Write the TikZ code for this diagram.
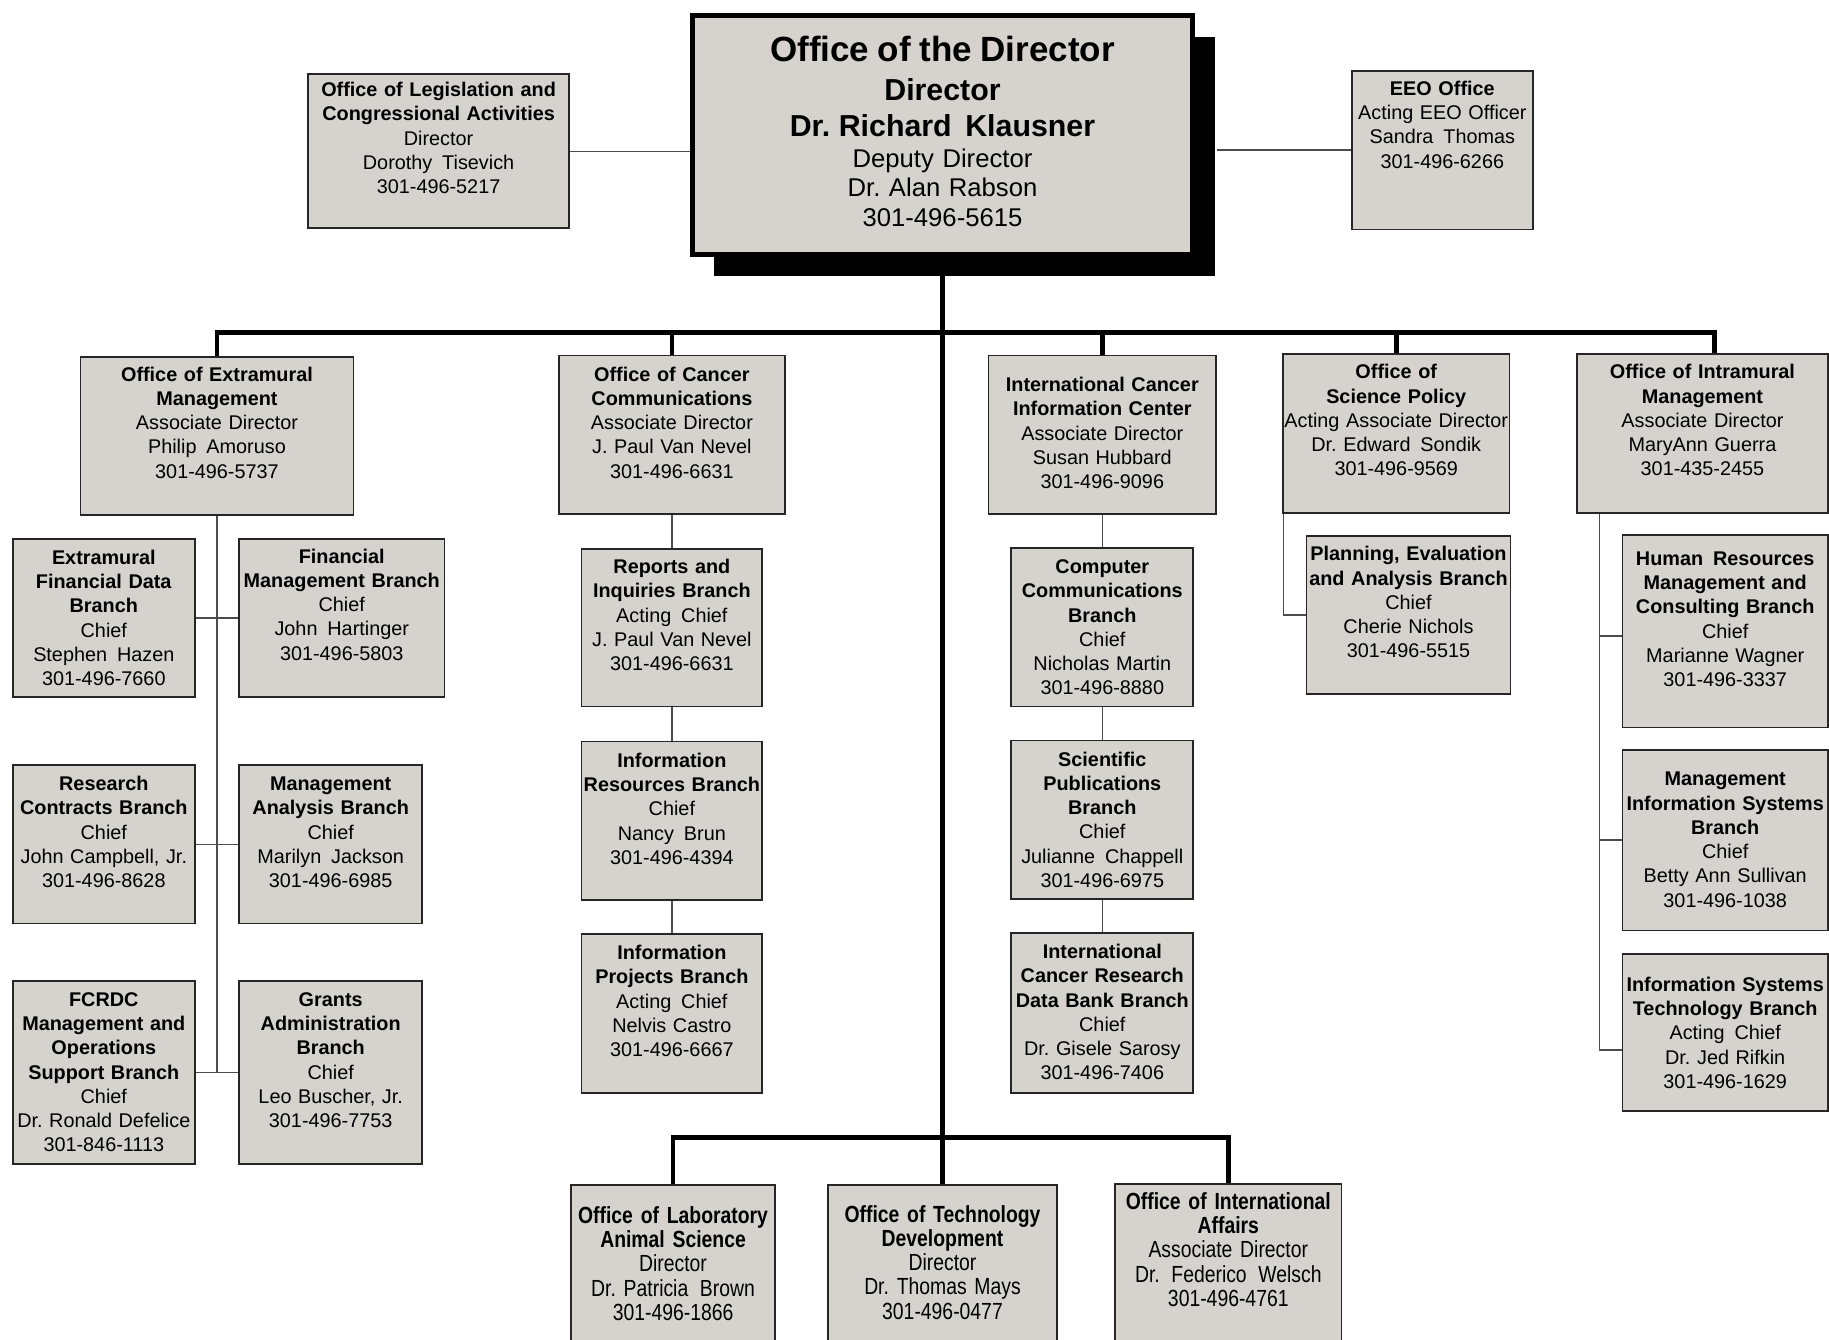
\documentclass[tikz,border=0pt]{standalone}
\usepackage{fontspec}
\setmainfont{Liberation Sans}
\newfontfamily\narrowsans[FakeStretch=0.83]{Liberation Sans}
\usetikzlibrary{shadows}
\definecolor{boxgray}{RGB}{214,210,206}
\frenchspacing

\tikzset{
  orgbox/.style={draw=black!85, line width=0.75pt, fill=boxgray, inner sep=0pt,
    anchor=north, align=center, font=\fontsize{8.5}{10.4}\selectfont},
  lowbox/.style={orgbox, font=\narrowsans\fontsize{10}{10.4}\selectfont},
  link/.style={draw=black!70, line width=0.6pt},
  trunk/.style={draw=black, line width=2pt},
}

\begin{document}
\begin{tikzpicture}[x=0.5pt, y=-0.5pt]
    \useasboundingbox (0,0) rectangle (1568,1148);
    \clip (0,0) rectangle (1568,1148);
    \fill[white] (0,0) rectangle (1568,1148);

    % director and staff offices
    \node[orgbox, draw=black, line width=2pt, text width=214.5pt, text height=20pt, text depth=82.5pt,
        drop shadow={shadow xshift=9.5pt, shadow yshift=-9.5pt, fill=black, opacity=1},
        font=\fontsize{11}{13}\selectfont] (dir) at (808,11)
        {\fontsize{15}{18}\selectfont\bfseries Office of the Director\\
         \fontsize{13}{16.4}\selectfont Director\\
         \fontsize{13}{15.5}\selectfont Dr. Richard~\,Klausner\\
         \fontsize{11}{13.3}\selectfont\mdseries Deputy Director\\
         \fontsize{11}{12.5}\selectfont Dr. Alan Rabson\\
         \fontsize{11}{13}\selectfont 301-496-5615};
    \node[orgbox, text width=112pt, text height=9.5pt, text depth=56.5pt] (olc) at (376,63)
        {\textbf{Office of Legislation and}\\ \textbf{Congressional Activities}\\ Director\\ Dorothy~\,Tisevich\\ 301-496-5217};
    \node[orgbox, text width=77.5pt, text height=10.5pt, text depth=57.5pt] (eeo) at (1236.5,60)
        {\textbf{EEO Office}\\ Acting EEO Officer\\ Sandra~\,Thomas\\ 301-496-6266};

    % associate director offices
    \node[orgbox, text width=117pt, text height=10.5pt, text depth=57.5pt] (oem) at (186,305)
        {\textbf{Office of Extramural}\\ \textbf{Management}\\ Associate Director\\ Philip~\,Amoruso\\ 301-496-5737};
    \node[orgbox, text width=97pt, text height=11pt, text depth=57pt] (occ) at (576,304)
        {\textbf{Office of Cancer}\\ \textbf{Communications}\\ Associate Director\\ J. Paul Van Nevel\\ 301-496-6631};
    \node[orgbox, text width=97.5pt, text height=15.5pt, text depth=52.5pt] (icic) at (945,304)
        {\textbf{International Cancer}\\ \textbf{Information Center}\\ Associate Director\\ Susan Hubbard\\ 301-496-9096};
    \node[orgbox, text width=97pt, text height=10.5pt, text depth=57.5pt] (osp) at (1197,303)
        {\textbf{Office of}\\ \textbf{Science Policy}\\ Acting Associate Director\\ Dr. Edward~\,Sondik\\ 301-496-9569};
    \node[orgbox, text width=107.5pt, text height=10.5pt, text depth=57.5pt] (oim) at (1459.5,303)
        {\textbf{Office of Intramural}\\ \textbf{Management}\\ Associate Director\\ MaryAnn Guerra\\ 301-435-2455};

    % extramural branches
    \node[orgbox, text width=78pt, text height=11pt, text depth=57pt] (efdb) at (89,461)
        {\textbf{Extramural}\\ \textbf{Financial Data}\\ \textbf{Branch}\\ Chief\\ Stephen~\,Hazen\\ 301-496-7660};
    \node[orgbox, text width=88pt, text height=10.5pt, text depth=57.5pt] (fmb) at (293,461)
        {\textbf{Financial}\\ \textbf{Management Branch}\\ Chief\\ John~\,Hartinger\\ 301-496-5803};
    \node[orgbox, text width=78pt, text height=11pt, text depth=57pt] (rcb) at (89,655)
        {\textbf{Research}\\ \textbf{Contracts Branch}\\ Chief\\ John Campbell, Jr.\\ 301-496-8628};
    \node[orgbox, text width=78.5pt, text height=11pt, text depth=57pt] (mab) at (283.5,655)
        {\textbf{Management}\\ \textbf{Analysis Branch}\\ Chief\\ Marilyn~\,Jackson\\ 301-496-6985};
    \node[orgbox, text width=78pt, text height=11pt, text depth=67.5pt] (fcrdc) at (89,840)
        {\textbf{FCRDC}\\ \textbf{Management and}\\ \textbf{Operations}\\ \textbf{Support Branch}\\ Chief\\ Dr. Ronald Defelice\\ 301-846-1113};
    \node[orgbox, text width=78.5pt, text height=11pt, text depth=67.5pt] (gab) at (283.5,840)
        {\textbf{Grants}\\ \textbf{Administration}\\ \textbf{Branch}\\ Chief\\ Leo Buscher, Jr.\\ 301-496-7753};

    % cancer communications branches
    \node[orgbox, text width=77.5pt, text height=10.5pt, text depth=57pt] (rib) at (576,470)
        {\textbf{Reports and}\\ \textbf{Inquiries Branch}\\ Acting~\,Chief\\ J. Paul Van Nevel\\ 301-496-6631};
    \node[orgbox, text width=77.5pt, text height=11pt, text depth=57pt] (irb) at (576,635)
        {\textbf{Information}\\ \textbf{Resources Branch}\\ Chief\\ Nancy~\,Brun\\ 301-496-4394};
    \node[orgbox, text width=77.5pt, text height=11pt, text depth=57pt] (ipb) at (576,800)
        {\textbf{Information}\\ \textbf{Projects Branch}\\ Acting~\,Chief\\ Nelvis Castro\\ 301-496-6667};

    % information center branches
    \node[orgbox, text width=78pt, text height=11pt, text depth=57pt] (ccb) at (945,469)
        {\textbf{Computer}\\ \textbf{Communications}\\ \textbf{Branch}\\ Chief\\ Nicholas Martin\\ 301-496-8880};
    \node[orgbox, text width=78pt, text height=11pt, text depth=57pt] (spb) at (945,634)
        {\textbf{Scientific}\\ \textbf{Publications}\\ \textbf{Branch}\\ Chief\\ Julianne~\,Chappell\\ 301-496-6975};
    \node[orgbox, text width=78pt, text height=11pt, text depth=57.5pt] (icrdb) at (945,799)
        {\textbf{International}\\ \textbf{Cancer Research}\\ \textbf{Data Bank Branch}\\ Chief\\ Dr. Gisele Sarosy\\ 301-496-7406};

    % science policy branch
    \node[orgbox, text width=87.5pt, text height=10.5pt, text depth=57pt] (peab) at (1207.5,459)
        {\textbf{Planning, Evaluation}\\ \textbf{and Analysis Branch}\\ Chief\\ Cherie Nichols\\ 301-496-5515};

    % intramural branches
    \node[orgbox, text width=88pt, text height=13pt, text depth=69.5pt] (hrb) at (1479,458)
        {\textbf{Human~\,Resources}\\ \textbf{Management and}\\ \textbf{Consulting Branch}\\ Chief\\ Marianne Wagner\\ 301-496-3337};
    \node[orgbox, text width=88pt, text height=15.5pt, text depth=62pt] (misb) at (1479,642)
        {\textbf{Management}\\ \textbf{Information Systems}\\ \textbf{Branch}\\ Chief\\ Betty Ann Sullivan\\ 301-496-1038};
    \node[orgbox, text width=88pt, text height=16pt, text depth=51.5pt] (istb) at (1479,817)
        {\textbf{Information Systems}\\ \textbf{Technology Branch}\\ Acting~\,Chief\\ Dr. Jed Rifkin\\ 301-496-1629};

    % lower offices
    \node[lowbox, text width=87.5pt, text height=16.5pt, text depth=68.5pt] (olas) at (577,1015)
        {\textbf{Office of Laboratory}\\ \textbf{Animal Science}\\ Director\\ Dr. Patricia~\,Brown\\ 301-496-1866};
    \node[lowbox, text width=98pt, text height=16pt, text depth=69pt] (otd) at (808,1015)
        {\textbf{Office of Technology}\\ \textbf{Development}\\ Director\\ Dr. Thomas Mays\\ 301-496-0477};
    \node[lowbox, text width=97pt, text height=11pt, text depth=74pt] (oia) at (1053,1014)
        {\textbf{Office of International}\\ \textbf{Affairs}\\ Associate Director\\ Dr.~\,Federico~\,Welsch\\ 301-496-4761};

    % main lines
    \coordinate (bus) at (808,285);
    \coordinate (lowbus) at (808,975);
    \draw[trunk] (dir.south) -- (otd.north);
    \draw[trunk] (oem.north) |- (bus) -| ([xshift=5.25pt]oim.north);
    \draw[trunk] (occ.north) -- (occ.north |- bus);
    \draw[trunk] (icic.north) -- (icic.north |- bus);
    \draw[trunk] (osp.north) -- (osp.north |- bus);
    \draw[trunk] (olas.north) |- (lowbus) -| (oia.north);

    % staff lines
    \coordinate (dirshadow) at ([xshift=9.5pt]dir.east);
    \draw[link] (olc.east) -- (olc.east -| dir.west);
    \draw[link] (eeo.west) -- (eeo.west -| dirshadow);

    % branch lines
    \draw[link] (oem.south) -- (oem.south |- fcrdc.east);
    \draw[link] (efdb.east) -- (fmb.west);
    \draw[link] (rcb.east) -- (mab.west);
    \draw[link] (fcrdc.east) -- (gab.west);

    \draw[link] (occ.south) -- (rib.north);
    \draw[link] (rib.south) -- (irb.north);
    \draw[link] (irb.south) -- (ipb.north);

    \draw[link] (icic.south) -- (ccb.north);
    \draw[link] (ccb.south) -- (spb.north);
    \draw[link] (spb.south) -- (icrdb.north);

    \coordinate (ospstem) at ([xshift=0.5pt]osp.south west);
    \draw[link] (ospstem) |- (peab.west);

    \coordinate (oimstem) at ([xshift=10pt]oim.south west);
    \draw[link] (oimstem) |- ([yshift=-7.5pt]istb.west);
    \draw[link] ([yshift=-2pt]hrb.west) -| (oimstem);
    \draw[link] (misb.west) -- (misb.west -| oimstem);
\end{tikzpicture}
\end{document}
